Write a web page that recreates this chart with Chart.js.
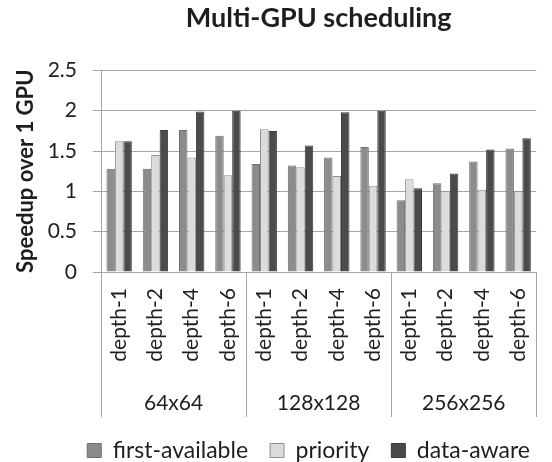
<!DOCTYPE html>
<html lang="en">
<head>
  <meta charset="UTF-8">
  <title>Multi-GPU scheduling</title>
  <script src="https://cdn.jsdelivr.net/npm/chart.js"></script>
  <style>
    body {
      margin: 0;
      padding: 0;
      background: #fff;
    }
    .chart-box {
      width: 552px;
      height: 462px;
    }
  </style>
</head>
<body>
  <div class="chart-box">
    <canvas id="gpuChart"></canvas>
  </div>

  <script>
    // values
    const depthLabels = ['depth-1', 'depth-2', 'depth-4', 'depth-6',
                         'depth-1', 'depth-2', 'depth-4', 'depth-6',
                         'depth-1', 'depth-2', 'depth-4', 'depth-6'];
    const groupLabels = ['64x64', '128x128', '256x256'];
    const firstAvailable = [1.28, 1.28, 1.76, 1.69, 1.34, 1.32, 1.42, 1.55, 0.89, 1.10, 1.37, 1.53];
    const priority       = [1.62, 1.45, 1.42, 1.20, 1.77, 1.30, 1.19, 1.07, 1.15, 1.00, 1.02, 1.00];
    const dataAware      = [1.62, 1.76, 1.99, 2.00, 1.75, 1.57, 1.98, 2.00, 1.04, 1.22, 1.52, 1.66];
    const yMax = 2.5;
    const yStep = 0.5;

    const fontFamily = 'Lato, "Open Sans", sans-serif';
    const axisGray = '#a6a6a6';
    const textColor = '#1e1e1e';

    // vertical separators between the size groups, running through both label rows
    const groupLines = {
      id: 'groupLines',
      afterDraw(chart) {
        const x = chart.scales.x;
        const x2 = chart.scales.x2;
        const half = (x.getPixelForTick(1) - x.getPixelForTick(0)) / 2;
        const per = depthLabels.length / groupLabels.length;
        const ctx = chart.ctx;
        ctx.save();
        ctx.strokeStyle = axisGray;
        ctx.lineWidth = 1;
        for (let g = 0; g <= groupLabels.length; g++) {
          let px;
          if (g < groupLabels.length) px = x.getPixelForTick(g * per) - half;
          else px = x.getPixelForTick(depthLabels.length - 1) + half;
          px = Math.round(px) + 0.5;
          ctx.beginPath();
          ctx.moveTo(px, x.top);
          ctx.lineTo(px, x2.bottom);
          ctx.stroke();
        }
        ctx.restore();
      }
    };

    // keep the legend strip short so the label rows above get their room
    const legendHeight = {
      id: 'legendHeight',
      beforeInit(chart) {
        const fit = chart.legend.fit;
        chart.legend.fit = function () {
          fit.call(this);
          this.height = 45;
        };
      }
    };

    new Chart(document.getElementById('gpuChart'), {
      type: 'bar',
      data: {
        labels: depthLabels,
        datasets: [
          {
            label: 'first-available',
            data: firstAvailable,
            backgroundColor: '#8c8c8e',
            borderColor: '#6f6f71',
            borderWidth: 1
          },
          {
            label: 'priority',
            data: priority,
            backgroundColor: '#dcdcdc',
            borderColor: '#8f8f8f',
            borderWidth: 1
          },
          {
            label: 'data-aware',
            data: dataAware,
            backgroundColor: '#4b4b4d',
            borderColor: '#3a3a3a',
            borderWidth: 1
          }
        ]
      },
      options: {
        responsive: true,
        maintainAspectRatio: false,
        animation: false,
        layout: { padding: { left: 4, right: 0, top: 0, bottom: 0 } },
        datasets: {
          bar: { categoryPercentage: 0.7, barPercentage: 1.0 }
        },
        plugins: {
          title: {
            display: true,
            fullSize: false,
            text: 'Multi-GPU scheduling',
            color: textColor,
            font: { family: fontFamily, size: 27, weight: 'bold' },
            padding: { top: 2, bottom: 36 }
          },
          legend: {
            position: 'bottom',
            align: 'end',
            labels: {
              color: textColor,
              font: { family: fontFamily, size: 23 },
              boxWidth: 14,
              boxHeight: 14,
              padding: 22
            }
          },
          tooltip: { enabled: false }
        },
        scales: {
          x: {
            weight: 0,
            grid: { display: false },
            border: { display: true, color: axisGray },
            ticks: {
              color: textColor,
              font: { family: fontFamily, size: 21 },
              minRotation: 90,
              maxRotation: 90,
              padding: 8,
              autoSkip: false
            },
            afterFit: scale => { scale.height = 111; }
          },
          x2: {
            type: 'category',
            position: 'bottom',
            weight: 1,
            labels: groupLabels,
            offset: true,
            grid: { display: false },
            border: { display: false },
            ticks: {
              color: textColor,
              font: { family: fontFamily, size: 21 },
              padding: 0
            },
            afterFit: scale => { scale.height = 34; }
          },
          y: {
            min: 0,
            max: yMax,
            ticks: {
              stepSize: yStep,
              color: textColor,
              font: { family: fontFamily, size: 21 },
              padding: 16,
              callback: value => value.toString()
            },
            grid: {
              color: axisGray,
              tickLength: 8,
              drawTicks: true
            },
            border: { display: true, color: axisGray },
            title: {
              display: true,
              text: 'Speedup over 1 GPU',
              color: textColor,
              font: { family: fontFamily, size: 22, weight: 'bold' },
              padding: { top: 9, bottom: 8 }
            },
            afterFit: scale => { scale.width = 97; }
          }
        }
      },
      plugins: [groupLines, legendHeight]
    });
  </script>
</body>
</html>
